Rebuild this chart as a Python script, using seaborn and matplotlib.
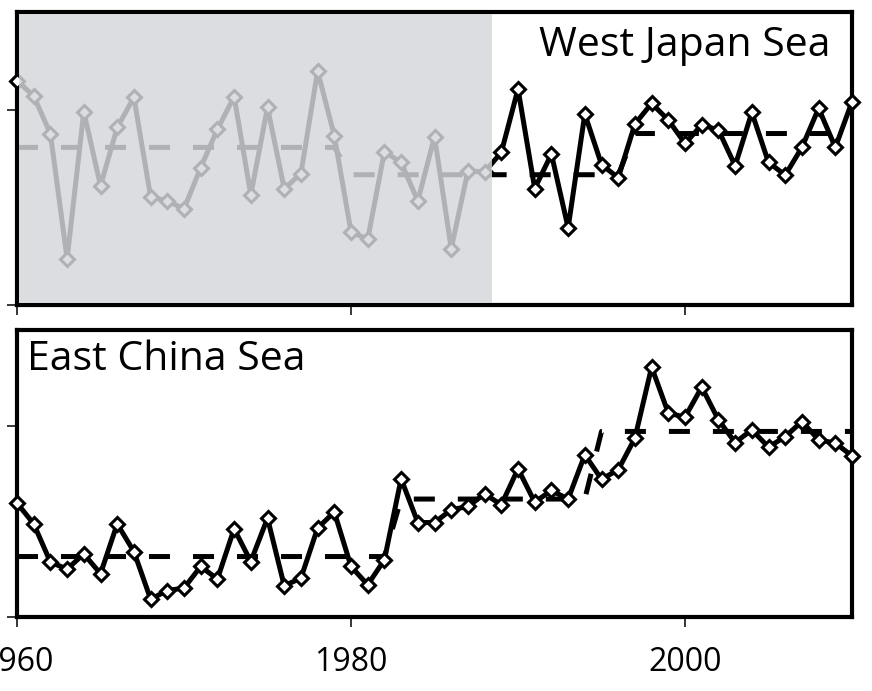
import matplotlib
matplotlib.use("Agg")
import matplotlib.pyplot as plt
import seaborn as sns

# annual series, 1960-2010
years = list(range(1960, 2011))

west_japan = [1.149, 1.070, 0.877, 0.237, 0.990, 0.610, 0.909, 1.063, 0.554, 0.533,
              0.492, 0.704, 0.899, 1.067, 0.564, 1.012, 0.595, 0.673, 1.198, 0.867,
              0.374, 0.337, 0.785, 0.730, 0.533, 0.862, 0.289, 0.686, 0.682, 0.781,
              1.106, 0.596, 0.773, 0.395, 0.978, 0.719, 0.651, 0.927, 1.032, 0.947,
              0.827, 0.922, 0.896, 0.713, 0.986, 0.730, 0.665, 0.807, 1.007, 0.807,
              1.041]

east_china = [0.594, 0.485, 0.285, 0.248, 0.328, 0.224, 0.485, 0.340, 0.091, 0.136,
              0.149, 0.262, 0.196, 0.459, 0.288, 0.515, 0.161, 0.201, 0.463, 0.547,
              0.262, 0.166, 0.297, 0.721, 0.492, 0.492, 0.559, 0.576, 0.642, 0.585,
              0.773, 0.599, 0.660, 0.615, 0.847, 0.719, 0.768, 0.934, 1.306, 1.065,
              1.044, 1.201, 1.030, 0.911, 0.977, 0.887, 0.942, 1.021, 0.925, 0.908,
              0.841]

# regime means (dashed steps)
wj_regime_years = [1960, 1979, 1980, 1996, 1997, 2010]
wj_regime_vals = [0.807, 0.807, 0.667, 0.667, 0.878, 0.878]
ec_regime_years = [1960, 1982, 1983, 1994, 1995, 2010]
ec_regime_vals = [0.314, 0.314, 0.615, 0.615, 0.969, 0.969]

# greyed-out period in the upper panel
shade_start, shade_end = 1960.13, 1988.44

xticks = [1960, 1980, 2000]
yticks = [0, 1]

sns.set_style("white")
plt.rcParams["font.family"] = ["Open Sans", "DejaVu Sans"]
plt.rcParams["text.color"] = "black"
plt.rcParams["xtick.color"] = "black"
plt.rcParams["ytick.color"] = "black"

fig = plt.figure(figsize=(8.72, 6.91), dpi=100)
ax_top = fig.add_axes([0.0195, 0.5586, 0.9576, 0.4240])
ax_bot = fig.add_axes([0.0195, 0.1078, 0.9576, 0.4146])

panels = [
    (ax_top, west_japan, wj_regime_years, wj_regime_vals),
    (ax_bot, east_china, ec_regime_years, ec_regime_vals),
]

for ax, vals, ryears, rvals in panels:
    sns.lineplot(x=ryears, y=rvals, ax=ax, color="black", linewidth=3.6, zorder=2.8)
    ax.lines[-1].set_dashes([4.2, 4.6])
    sns.lineplot(x=years, y=vals, ax=ax, color="black", linewidth=3.6,
                 marker="D", markersize=7.2, markerfacecolor="white",
                 markeredgecolor="black", markeredgewidth=2.2,
                 clip_on=False, zorder=3)
    ax.set_xlim(1960, 2010)
    ax.set_ylim(0, 1.5)
    ax.set_xticks(xticks)
    ax.set_yticks(yticks)
    ax.set_yticklabels([])
    ax.set_xlabel("")
    ax.set_ylabel("")
    ax.tick_params(direction="out", length=7, width=1.1, color="black",
                   labelcolor="black", labelsize=23, pad=14, left=True, bottom=True)
    for sp in ax.spines.values():
        sp.set_visible(True)
        sp.set_color("black")
        sp.set_linewidth(3)

ax_top.tick_params(labelbottom=False)
ax_top.axvspan(shade_start, shade_end, ymin=0.008, ymax=0.992,
               color="#d5d6db", alpha=0.83, lw=0, zorder=4)

ax_top.text(0.974, 0.885, "West Japan Sea", transform=ax_top.transAxes,
            ha="right", va="center", fontsize=29.5, color="black", zorder=5)
ax_bot.text(0.012, 0.895, "East China Sea", transform=ax_bot.transAxes,
            ha="left", va="center", fontsize=29.5, color="black", zorder=5)

fig.savefig("out.png", dpi=100)
plt.close(fig)
